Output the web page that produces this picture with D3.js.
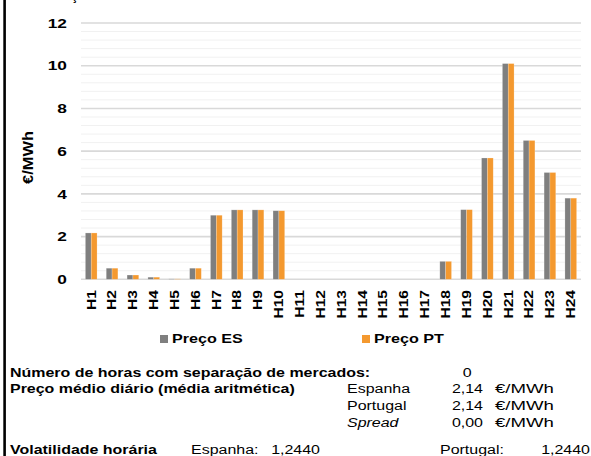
<!DOCTYPE html>
<html><head><meta charset="utf-8">
<script src="https://cdn.jsdelivr.net/npm/d3@7"></script>
<style>
html,body{margin:0;padding:0;background:#fff;}
svg{display:block;font-family:"Liberation Sans",Arial,sans-serif;}
</style></head>
<body><svg id="c" width="591" height="456"></svg>
<script>
const hours = ["H1","H2","H3","H4","H5","H6","H7","H8","H9","H10","H11","H12","H13","H14","H15","H16","H17","H18","H19","H20","H21","H22","H23","H24"];
const precoES = [2.17,0.52,0.20,0.10,0.02,0.52,3.00,3.25,3.25,3.21,0,0,0,0,0,0,0,0.84,3.26,5.68,10.10,6.50,5.00,3.80];
const precoPT = [2.17,0.52,0.20,0.10,0.02,0.52,3.00,3.25,3.25,3.21,0,0,0,0,0,0,0,0.84,3.26,5.68,10.10,6.50,5.00,3.80];
const yTicks = [0,2,4,6,8,10,12];
const seriesNames = ["Preço ES","Preço PT"];
const seriesColors = ["#7f7f7f","#f4992f"];
const yTitle = "€/MWh";
const horasSeparacao = 0;
const mediaES = 2.14, mediaPT = 2.14, spread = 0.00;
const volES = 1.2440, volPT = 1.2440;

const svg = d3.select("#c");
const K = 1.33;
function stretch(sel, k){
  sel.each(function(){
    const L = this.getComputedTextLength();
    d3.select(this).attr("textLength", L*k).attr("lengthAdjust","spacingAndGlyphs");
  });
}

const y = d3.scaleLinear().domain([0,12]).range([279.3, 23]);
const x = d3.scaleBand().domain(hours).range([81,581]).paddingInner(0.44).paddingOuter(0.21);
const xs = d3.scaleBand().domain([0,1]).range([0, x.bandwidth()]);

// left border
svg.append("rect").attr("x",3.3).attr("y",0).attr("width",2.6).attr("height",456).attr("fill","#000");

// minor gridlines
const minor = d3.range(0, 12.001, 0.4).filter(v => Math.abs(v/2 - Math.round(v/2)) > 1e-6);
svg.append("g").selectAll("line").data(minor).join("line")
  .attr("x1",81).attr("x2",581).attr("y1",d=>y(d)).attr("y2",d=>y(d))
  .attr("stroke","#f1f1f1").attr("stroke-width",1);

// major gridlines
svg.append("g").selectAll("line").data(yTicks).join("line")
  .attr("x1",81).attr("x2",581).attr("y1",d=>y(d)).attr("y2",d=>y(d))
  .attr("stroke","#d9d9d9").attr("stroke-width",1.6);

// y tick labels
const yl = svg.append("g").selectAll("text").data(yTicks).join("text")
  .attr("x",67).attr("y",d=>y(d)+4.7).attr("text-anchor","end")
  .attr("font-size",13).attr("font-weight","bold").attr("fill","#000").text(d=>d);
stretch(yl, K);

// bars
const series = [precoES, precoPT];
series.forEach((vals, si) => {
  svg.append("g").selectAll("rect").data(hours).join("rect")
    .attr("x", (h) => x(h) + xs(si))
    .attr("width", xs.bandwidth())
    .attr("y", (h,i) => y(vals[i]))
    .attr("height", (h,i) => y(0) - y(vals[i]))
    .attr("fill", seriesColors[si])
    .attr("stroke","#fff").attr("stroke-opacity",0.35).attr("stroke-width",0.6);
});

// x labels
const xl = svg.append("g").selectAll("text").data(hours).join("text")
  .attr("transform", h => `translate(${x(h)+x.bandwidth()/2+4.3},290) rotate(-90)`)
  .attr("text-anchor","end").attr("font-size",12).attr("font-weight","bold").attr("fill","#000")
  .text(h=>h);
stretch(xl, 1.3);

// y title
svg.append("text").attr("transform","translate(33,157.5) rotate(-90)")
  .attr("text-anchor","middle").attr("font-size",15).attr("font-weight","bold")
  .attr("textLength",53).attr("lengthAdjust","spacingAndGlyphs").text(yTitle);

// cut fragment at top (title above the visible area)
svg.append("text").attr("x",71).attr("y",0).attr("font-size",13).attr("font-weight","bold").text("ç");

// legend
const legX = [160, 362];
seriesNames.forEach((n,i) => {
  svg.append("rect").attr("x",legX[i]).attr("y",335).attr("width",8).attr("height",8).attr("fill",seriesColors[i]);
  const t = svg.append("text").attr("x",legX[i]+12).attr("y",342.7).attr("font-size",13).attr("font-weight","bold").text(n);
  stretch(t, 1.24);
});

// summary block
const fmt = (v,d) => v.toFixed(d).replace(".",",");
function txt(xp, yp, s, opts={}){
  const t = svg.append("text").attr("x",xp).attr("y",yp).attr("font-size",12)
    .attr("font-weight",opts.bold?"bold":"normal")
    .attr("font-style",opts.italic?"italic":"normal")
    .attr("text-anchor",opts.anchor||"start").attr("fill","#000").text(s);
  stretch(t, opts.k||K);
  return t;
}
const r1=376.5, r2=393.3, r3=410.3, r4=427.3, r5=454;
txt(10, r1, "Número de horas com separação de mercados:", {bold:true});
txt(471.7, r1, String(horasSeparacao), {anchor:"end"});
txt(10, r2, "Preço médio diário (média aritmética)", {bold:true});
txt(347, r2, "Espanha");
txt(483, r2, fmt(mediaES,2), {anchor:"end"});
txt(495, r2, "€/MWh", {k:1.55});
txt(347, r3, "Portugal");
txt(483, r3, fmt(mediaPT,2), {anchor:"end"});
txt(495, r3, "€/MWh", {k:1.55});
txt(347, r4, "Spread", {italic:true});
txt(483, r4, fmt(spread,2), {anchor:"end"});
txt(495, r4, "€/MWh", {k:1.55});
txt(10, r5, "Volatilidade horária", {bold:true});
txt(191, r5, "Espanha:");
txt(320, r5, fmt(volES,4), {anchor:"end"});
txt(440, r5, "Portugal:");
txt(590, r5, fmt(volPT,4), {anchor:"end"});
</script></body></html>
